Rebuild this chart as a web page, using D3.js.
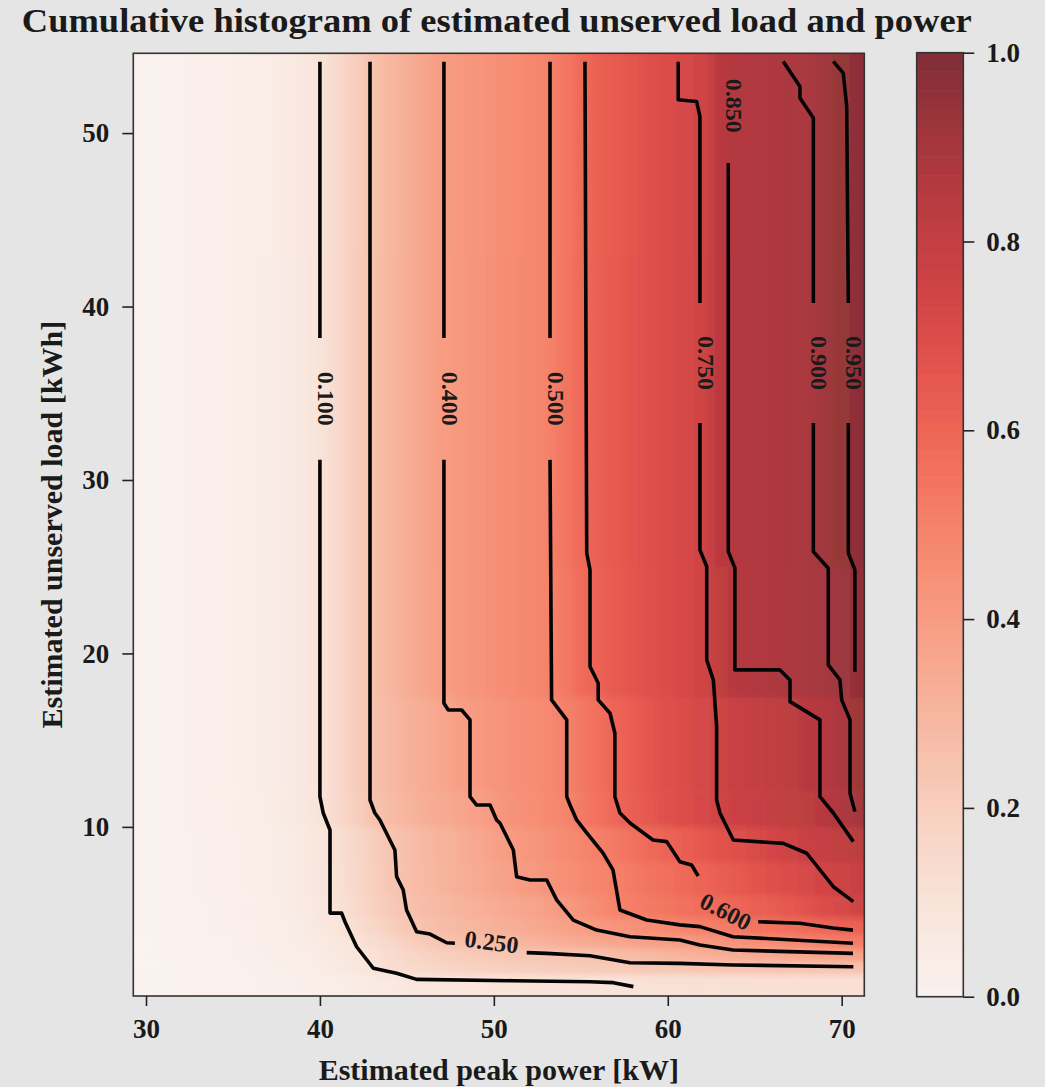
<!DOCTYPE html>
<html>
<head>
    <title>Cumulative histogram of estimated unserved load and power</title>
    <meta charset="utf-8">
    <style>
        body { margin: 0; background: #e5e5e5; }
        svg text { font-family: "Liberation Serif", "Times New Roman", serif; font-weight: bold; fill: #1a1a1a; }
    </style>
</head>
<body>
<script src="https://cdn.jsdelivr.net/npm/d3@7"></script>
<script>
    // grid columns: estimated peak power [kW] (cell centres)
    var peakPower = [30, 31, 32, 33, 34, 35, 36, 37, 38, 39, 40, 41, 42, 43, 44, 45, 46, 47, 48, 49,
        50, 51, 52, 53, 54, 55, 56, 57, 58, 59, 60, 61, 62, 63, 64, 65, 66, 67, 68, 69, 70, 71];

    // grid rows: estimated unserved load [kWh] (band edges, bottom to top)
    var loadEdges = [0.25, 1.5, 2.25, 3, 3.75, 4.75, 6, 8, 10, 12, 17.5, 25, 54.6];

    // cumulative frequency per row band (bottom to top), one value per peakPower column
    var cumFreq = [
        [0, .001, .002, .003, .004, .005, .007, .009, .012, .017, .024, .032, .042, .053, .063, .072, .078, .083, .087, .09,
            .093, .095, .097, .098, .099, .1, .101, .103, .105, .107, .109, .11, .112, .113, .114, .115, .116, .117, .118, .119, .12, .12],
        [0, .002, .003, .005, .007, .009, .012, .015, .02, .03, .042, .056, .075, .10, .125, .145, .16, .172, .18, .187,
            .193, .198, .203, .207, .211, .215, .219, .223, .227, .23, .233, .236, .239, .241, .243, .245, .246, .247, .248, .249, .25, .252],
        [0, .002, .004, .006, .008, .011, .014, .018, .024, .035, .05, .066, .085, .11, .14, .165, .185, .20, .21, .22,
            .228, .235, .24, .244, .247, .249, .255, .268, .28, .29, .30, .31, .32, .33, .34, .348, .356, .363, .37, .377, .383, .39],
        [0, .003, .005, .008, .01, .013, .017, .022, .029, .042, .06, .08, .10, .13, .16, .19, .22, .245, .26, .272,
            .284, .296, .308, .32, .332, .343, .354, .365, .375, .385, .393, .40, .413, .426, .44, .453, .466, .479, .492, .503, .515, .525],
        [0, .003, .006, .009, .012, .015, .019, .025, .033, .048, .07, .09, .125, .16, .195, .23, .255, .27, .285, .30,
            .315, .33, .345, .36, .375, .392, .41, .425, .44, .455, .47, .487, .502, .515, .528, .541, .554, .567, .58, .594, .608, .62],
        [0, .004, .007, .01, .013, .017, .022, .028, .037, .055, .08, .105, .145, .185, .22, .25, .27, .29, .305, .32,
            .335, .35, .365, .385, .405, .43, .46, .492, .51, .525, .54, .555, .57, .585, .598, .615, .635, .655, .675, .70, .725, .755],
        [0, .004, .008, .012, .015, .019, .024, .03, .04, .058, .085, .115, .155, .195, .235, .26, .285, .305, .325, .345,
            .365, .385, .405, .425, .445, .465, .485, .505, .525, .545, .565, .585, .605, .625, .645, .665, .685, .705, .725, .745, .765, .785],
        [0, .005, .008, .012, .016, .02, .025, .032, .042, .06, .085, .12, .16, .20, .24, .265, .29, .31, .33, .355,
            .38, .40, .42, .44, .46, .48, .505, .53, .555, .58, .60, .625, .65, .67, .69, .71, .735, .755, .775, .795, .815, .835],
        [0, .005, .01, .015, .02, .025, .03, .038, .048, .068, .097, .145, .195, .245, .275, .30, .325, .345, .365, .385,
            .41, .43, .45, .465, .485, .52, .555, .595, .625, .655, .68, .70, .725, .752, .77, .785, .80, .815, .83, .845, .875, .91],
        [0, .005, .01, .015, .02, .025, .03, .04, .05, .07, .10, .15, .205, .255, .285, .315, .34, .36, .385, .405,
            .425, .44, .455, .47, .495, .53, .565, .60, .63, .66, .685, .705, .73, .755, .775, .795, .81, .825, .84, .855, .885, .93],
        [0, .005, .01, .015, .02, .025, .03, .04, .05, .07, .10, .15, .205, .255, .295, .33, .365, .395, .415, .43,
            .445, .46, .475, .49, .525, .575, .61, .64, .66, .68, .70, .72, .745, .815, .852, .862, .872, .882, .89, .902, .925, .955],
        [0, .005, .01, .015, .02, .025, .03, .04, .05, .07, .10, .15, .205, .255, .295, .33, .365, .398, .415, .43,
            .445, .46, .475, .49, .535, .585, .62, .645, .665, .685, .705, .725, .755, .84, .86, .868, .876, .884, .89, .915, .945, .97]
    ];

    // contour lines, [kW, kWh]; breaks are where the inline labels sit
    var contourLines = [
        { level: 0.10, segments: [
            [[40.0, 54.11], [40.0, 38.19]],
            [[40.0, 31.16], [40.0, 11.74], [40.19, 10.80], [40.58, 9.82], [40.58, 5.03], [41.25, 5.03], [41.44, 4.53], [42.11, 3.09],
                [43.07, 1.85], [44.41, 1.56], [45.56, 1.21], [51.12, 1.13], [55.53, 1.07], [56.87, 1.02], [58.02, 0.79]]] },
        { level: 0.25, segments: [
            [[42.88, 54.11], [42.88, 11.55], [43.16, 10.80], [43.45, 10.40], [44.31, 8.67], [44.41, 7.13], [44.79, 6.36], [44.98, 5.21],
                [45.56, 3.96], [46.33, 3.82], [47.29, 3.32], [47.76, 3.29]],
            [[51.89, 2.75], [53.04, 2.71], [55.53, 2.57], [57.83, 2.17], [60.70, 2.13], [63.75, 2.04], [70.67, 1.94]]] },
        { level: 0.40, segments: [
            [[47.13, 54.11], [47.13, 38.19]],
            [[47.13, 31.16], [47.13, 17.13], [47.38, 16.74], [48.15, 16.74], [48.63, 16.17], [48.63, 11.74], [49.01, 11.26], [49.78, 11.26],
                [50.16, 10.40], [50.35, 10.22], [51.12, 8.67], [51.31, 7.13], [52.08, 6.94], [53.04, 6.94], [53.61, 5.79], [54.57, 4.63],
                [55.91, 4.05], [57.83, 3.67], [60.70, 3.48], [61.85, 3.19], [63.75, 2.90], [70.65, 2.71]]] },
        { level: 0.50, segments: [
            [[53.23, 54.11], [53.23, 38.19]],
            [[53.23, 31.16], [53.32, 17.32], [54.19, 16.17], [54.19, 11.74], [54.38, 11.26], [54.76, 10.40], [55.34, 9.65], [56.27, 8.50],
                [56.85, 7.52], [57.25, 5.21], [58.79, 4.63], [60.70, 4.35], [61.85, 4.25], [63.75, 3.67], [70.65, 3.29]]] },
        { level: 0.60, segments: [
            [[55.24, 54.11], [55.34, 25.80], [55.53, 24.82], [55.53, 19.24], [55.80, 18.70], [56.0, 18.28], [56.0, 17.32], [56.68, 16.55],
                [56.96, 15.40], [56.96, 11.74], [57.25, 10.80], [57.83, 10.22], [59.15, 9.24], [59.94, 9.15], [60.70, 7.99], [61.37, 7.80],
                [61.75, 7.17]],
            [[65.20, 4.53], [67.60, 4.44], [69.50, 4.17], [70.65, 4.05]]] },
        { level: 0.75, segments: [
            [[60.60, 54.11], [60.60, 51.92], [61.66, 51.82], [61.85, 50.96], [61.85, 40.20]],
            [[61.85, 33.28], [61.85, 25.97], [62.24, 25.01], [62.24, 19.63], [62.62, 18.47], [62.81, 15.78], [62.81, 11.55], [63.00, 10.80],
                [63.77, 9.24], [66.64, 9.05], [67.99, 8.48], [69.52, 6.55], [70.67, 5.69]]] },
        { level: 0.85, segments: [
            [[63.48, 48.27], [63.48, 25.87], [63.86, 24.93], [63.86, 19.05], [66.45, 19.05], [67.03, 18.47], [67.03, 17.22], [68.75, 16.17],
                [68.75, 11.74], [69.52, 10.80], [70.67, 9.15]]] },
        { level: 0.90, segments: [
            [[66.64, 54.13], [67.60, 52.69], [67.60, 52.02], [68.37, 50.87], [68.37, 40.20]],
            [[68.37, 33.28], [68.37, 25.87], [69.23, 24.91], [69.23, 19.34], [69.90, 18.47], [70.00, 17.32], [70.48, 16.17], [70.48, 11.94],
                [70.76, 10.88]]] },
        { level: 0.95, segments: [
            [[69.52, 54.13], [70.09, 53.46], [70.29, 51.53], [70.38, 40.20]],
            [[70.38, 33.28], [70.38, 25.78], [70.76, 24.82], [70.76, 18.95]]] }
    ];

    // inline contour labels: anchor on the line [kW, kWh] and text angle
    var contourLabels = [
        { level: 0.10, x: 40.0, y: 34.68, angle: 90 },
        { level: 0.25, x: 49.83, y: 3.01, angle: 7.5 },
        { level: 0.40, x: 47.13, y: 34.68, angle: 90 },
        { level: 0.50, x: 53.23, y: 34.68, angle: 90 },
        { level: 0.60, x: 63.17, y: 4.80, angle: 27 },
        { level: 0.75, x: 61.85, y: 36.74, angle: 90 },
        { level: 0.85, x: 63.48, y: 51.57, angle: 90 },
        { level: 0.90, x: 68.37, y: 36.74, angle: 90 },
        { level: 0.95, x: 70.38, y: 36.74, angle: 90 }
    ];

    var xTicks = [30, 40, 50, 60, 70];
    var yTicks = [10, 20, 30, 40, 50];
    var cbTicks = [0, 0.2, 0.4, 0.6, 0.8, 1.0];

    var W = 1045, H = 1087;
    var plot = { left: 133.3, right: 864.3, top: 53.3, bottom: 996 };
    var cb = { left: 916.7, right: 963.3, top: 52.7, bottom: 996.7 };
    var alpha = 0.8;

    var svg = d3.select('body').append('svg')
        .attr('width', W)
        .attr('height', H);

    svg.append('rect').attr('width', W).attr('height', H).attr('fill', '#e5e5e5');

    var x = d3.scaleLinear().domain([29.27, 71.3]).range([plot.left, plot.right]);
    var y = d3.scaleLinear().domain([0.25, 54.6]).range([plot.bottom, plot.top]);
    var cbScale = d3.scaleLinear().domain([0, 1]).range([cb.bottom, cb.top]);

    var defs = svg.append('defs');
    defs.append('clipPath').attr('id', 'plotClip')
        .append('rect')
        .attr('x', plot.left).attr('y', plot.top)
        .attr('width', plot.right - plot.left).attr('height', plot.bottom - plot.top);
    defs.append('filter').attr('id', 'soft')
        .attr('filterUnits', 'userSpaceOnUse')
        .attr('x', 0).attr('y', 0).attr('width', W).attr('height', H)
        .append('feGaussianBlur').attr('stdDeviation', '6 3');

    // heatmap cells, softened like the original image
    var cells = [];
    cumFreq.forEach(function (row, j) {
        row.forEach(function (v, i) {
            var n = peakPower.length;
            cells.push({
                x0: i === 0 ? 27 : (peakPower[i - 1] + peakPower[i]) / 2,
                x1: i === n - 1 ? 74 : (peakPower[i] + peakPower[i + 1]) / 2,
                y0: j === 0 ? -3 : loadEdges[j],
                y1: j === cumFreq.length - 1 ? 58 : loadEdges[j + 1],
                v: v
            });
        });
    });

    var heat = svg.append('g').attr('clip-path', 'url(#plotClip)')
        .append('g').attr('filter', 'url(#soft)').attr('opacity', alpha);
    heat.selectAll('rect').data(cells).enter().append('rect')
        .attr('x', function (d) { return x(d.x0); })
        .attr('y', function (d) { return y(d.y1); })
        .attr('width', function (d) { return x(d.x1) - x(d.x0) + 0.5; })
        .attr('height', function (d) { return y(d.y0) - y(d.y1) + 0.5; })
        .attr('fill', function (d) { return d3.interpolateReds(d.v); });

    // contour lines
    var line = d3.line()
        .x(function (d) { return x(d[0]); })
        .y(function (d) { return y(d[1]); });

    var segs = [];
    contourLines.forEach(function (c) {
        c.segments.forEach(function (s) { segs.push(s); });
    });
    svg.append('g').attr('clip-path', 'url(#plotClip)')
        .selectAll('path').data(segs).enter().append('path')
        .attr('d', line)
        .attr('fill', 'none')
        .attr('stroke', '#050505')
        .attr('stroke-width', 3.6)
        .attr('stroke-linejoin', 'round');

    svg.append('g').selectAll('text').data(contourLabels).enter().append('text')
        .attr('transform', function (d) {
            return 'translate(' + x(d.x) + ',' + y(d.y) + ') rotate(' + d.angle + ')';
        })
        .attr('text-anchor', 'middle')
        .attr('dominant-baseline', 'central')
        .attr('dy', -6)
        .attr('font-size', 24)
        .text(function (d) { return d3.format('.3f')(d.level); });

    // frame
    svg.append('rect')
        .attr('x', plot.left).attr('y', plot.top)
        .attr('width', plot.right - plot.left).attr('height', plot.bottom - plot.top)
        .attr('fill', 'none').attr('stroke', '#333').attr('stroke-width', 1.6);

    // axes
    function styleAxis(g) {
        g.attr('font-family', null).attr('font-size', 27);
        g.select('.domain').remove();
        g.selectAll('line').attr('stroke', '#222').attr('stroke-width', 1.6);
        g.selectAll('text').attr('fill', '#1a1a1a');
    }

    svg.append('g')
        .attr('transform', 'translate(0,' + plot.bottom + ')')
        .call(d3.axisBottom(x).tickValues(xTicks).tickSize(10).tickPadding(13).tickFormat(d3.format('d')))
        .call(styleAxis);

    svg.append('g')
        .attr('transform', 'translate(' + plot.left + ',0)')
        .call(d3.axisLeft(y).tickValues(yTicks).tickSize(11).tickPadding(13).tickFormat(d3.format('d')))
        .call(styleAxis);

    // colour bar
    var cbBands = d3.range(0, 1, 0.01);
    svg.append('g').attr('opacity', alpha)
        .selectAll('rect').data(cbBands).enter().append('rect')
        .attr('x', cb.left)
        .attr('y', function (d) { return cbScale(d + 0.01) - 0.3; })
        .attr('width', cb.right - cb.left)
        .attr('height', function (d) { return cbScale(d) - cbScale(d + 0.01) + 0.6; })
        .attr('fill', function (d) { return d3.interpolateReds(d + 0.005); });

    svg.append('rect')
        .attr('x', cb.left).attr('y', cb.top)
        .attr('width', cb.right - cb.left).attr('height', cb.bottom - cb.top)
        .attr('fill', 'none').attr('stroke', '#333').attr('stroke-width', 1.6);

    svg.append('g')
        .attr('transform', 'translate(' + cb.right + ',0)')
        .call(d3.axisRight(cbScale).tickValues(cbTicks).tickSize(11).tickPadding(12).tickFormat(d3.format('.1f')))
        .call(styleAxis);

    // titles
    svg.append('text')
        .attr('x', (plot.left + plot.right) / 2 - 2)
        .attr('y', 32)
        .attr('text-anchor', 'middle')
        .attr('font-size', 34)
        .attr('textLength', 950)
        .attr('lengthAdjust', 'spacingAndGlyphs')
        .text('Cumulative histogram of estimated unserved load and power');

    svg.append('text')
        .attr('x', (plot.left + plot.right) / 2)
        .attr('y', 1080)
        .attr('text-anchor', 'middle')
        .attr('font-size', 30)
        .text('Estimated peak power [kW]');

    svg.append('text')
        .attr('transform', 'translate(62,' + (plot.top + plot.bottom) / 2 + ') rotate(-90)')
        .attr('text-anchor', 'middle')
        .attr('font-size', 30)
        .text('Estimated unserved load [kWh]');
</script>
</body>
</html>
